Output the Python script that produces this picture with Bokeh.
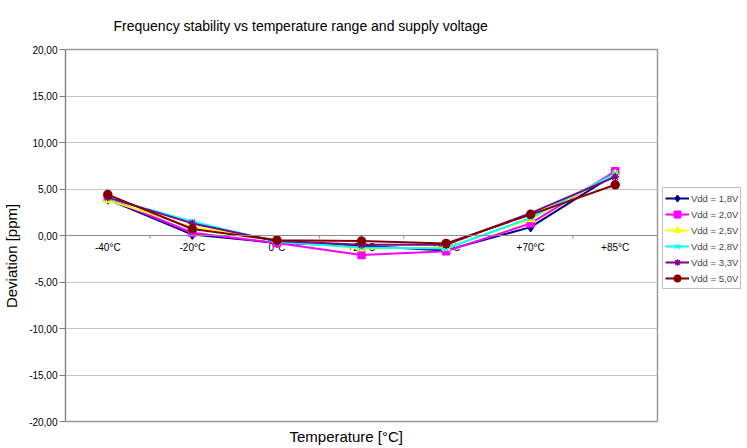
from bokeh.plotting import figure
from bokeh.models import FixedTicker, Legend, LegendItem, LinearAxis, Range1d, Span, Title
from bokeh.core.properties import value
from bokeh.embed import file_html
from bokeh.resources import INLINE

# ---- data ----
temps = ["-40°C", "-20°C", "0°C", "+25°C", "+50°C", "+70°C", "+85°C"]
series_names = ["Vdd = 1,8V", "Vdd = 2,0V", "Vdd = 2,5V", "Vdd = 2,8V", "Vdd = 3,3V", "Vdd = 5,0V"]
vdd_18 = [3.9, 0.1, -0.8, -1.1, -1.6, 0.9, 6.6]
vdd_20 = [4.0, 0.3, -0.8, -2.1, -1.7, 1.3, 6.9]
vdd_25 = [3.8, 0.9, -0.5, -1.4, -1.3, 1.75, 6.6]
vdd_28 = [4.0, 1.5, -0.7, -1.3, -1.4, 1.9, 6.65]
vdd_33 = [4.1, 1.3, -0.6, -1.0, -1.0, 2.4, 6.3]
vdd_50 = [4.4, 0.7, -0.5, -0.6, -0.85, 2.25, 5.45]
series_values = [vdd_18, vdd_20, vdd_25, vdd_28, vdd_33, vdd_50]
y_ticks = [-20, -15, -10, -5, 0, 5, 10, 15, 20]
title_text = "Frequency stability vs temperature range and supply voltage"
x_title = "Temperature [°C]"
y_title = "Deviation [ppm]"

# ---- styles / placement ----
colors = ["#000080", "#ff00ff", "#ffff00", "#00ffff", "#800080", "#800000"]
markers = ["diamond", "square", "triangle", "x", "asterisk", "circle"]
msizes = [9, 7, 8, 8, 8, 8]
FONT = "Liberation Sans"
x_title_pos = 2.82   # where the x title is centred (category units)
y_title_pos = -2.2   # where the y title is centred (value units)

x_idx = list(range(len(temps)))

p = figure(frame_width=592, frame_height=372, output_backend="svg", toolbar_location=None,
           x_range=Range1d(-0.5, len(temps) - 0.5),
           y_range=Range1d(min(y_ticks), max(y_ticks)),
           x_axis_location=None,
           min_border_left=56, min_border_top=42, min_border_bottom=17, min_border_right=83)
p.background_fill_color = "white"
p.border_fill_color = "white"
p.outline_line_color = "#9a9a9a"
p.outline_line_width = 1.5

p.title = Title(text=title_text, align="left", offset=48, standoff=31,
                text_font=FONT, text_font_size="14px", text_font_style="normal",
                text_color="black")

p.xgrid.visible = False
p.ygrid.ticker = FixedTicker(ticks=y_ticks)
p.ygrid.grid_line_color = "#c4c4c4"
p.ygrid.grid_line_width = 1

yax = p.yaxis[0]
yax.ticker = FixedTicker(ticks=y_ticks)
yax.major_label_overrides = {float(t): f"{t:.2f}".replace(".", ",") for t in y_ticks}
yax.major_tick_out = 6
yax.major_tick_in = 0
yax.minor_tick_line_color = None
yax.axis_line_color = "#808080"
yax.major_tick_line_color = "#808080"
yax.major_label_text_font = FONT
yax.major_label_text_font_size = "10px"
yax.major_label_text_color = "black"
yax.major_label_standoff = 2

# outer left axis carrying only the y title
ytitle_ax = LinearAxis(ticker=FixedTicker(ticks=[y_title_pos]),
                       major_label_overrides={y_title_pos: y_title},
                       major_label_orientation="vertical",
                       axis_line_color=None, major_tick_line_color=None, minor_tick_line_color=None,
                       major_label_text_font=FONT, major_label_text_font_size="15px",
                       major_label_text_color="black", major_label_standoff=0)
p.add_layout(ytitle_ax, "left")

# bottom axis carrying only the x title
xtitle_ax = LinearAxis(ticker=FixedTicker(ticks=[x_title_pos]),
                       major_label_overrides={x_title_pos: x_title},
                       axis_line_color=None, major_tick_line_color=None, minor_tick_line_color=None,
                       major_label_text_font=FONT, major_label_text_font_size="15px",
                       major_label_text_color="black", major_label_standoff=0)
p.add_layout(xtitle_ax, "below")

# category axis at y = 0
p.add_layout(Span(location=0, dimension="width", line_color="#8c8c8c", line_width=1))
bounds = [i + 0.5 for i in x_idx[:-1]]
p.segment(x0=bounds, y0=[0] * len(bounds), x1=bounds, y1=[-0.35] * len(bounds),
          line_color="#8c8c8c", line_width=1)
p.text(x=x_idx, y=[0] * len(temps), text=temps, text_align="center", text_baseline="top",
       y_offset=6, text_font=value(FONT), text_font_size="10px", text_color="black")

items = []
for name, vals, c, m, s in zip(series_names, series_values, colors, markers, msizes):
    lr = p.line(x_idx, vals, line_color=c, line_width=2)
    sr = p.scatter(x_idx, vals, marker=m, size=s, fill_color=c, line_color=c, line_width=1.5)
    items.append(LegendItem(label=name, renderers=[lr, sr]))

legend = Legend(items=items, location=(5, 132), label_text_font=FONT, label_text_font_size="9.5px",
                glyph_width=24, glyph_height=16, label_height=16, spacing=0, padding=2, margin=0,
                label_standoff=2, border_line_color="#808080", border_line_width=1,
                background_fill_color="white", background_fill_alpha=1)
p.add_layout(legend, "right")

open("out.html", "w").write(file_html(p, INLINE))
